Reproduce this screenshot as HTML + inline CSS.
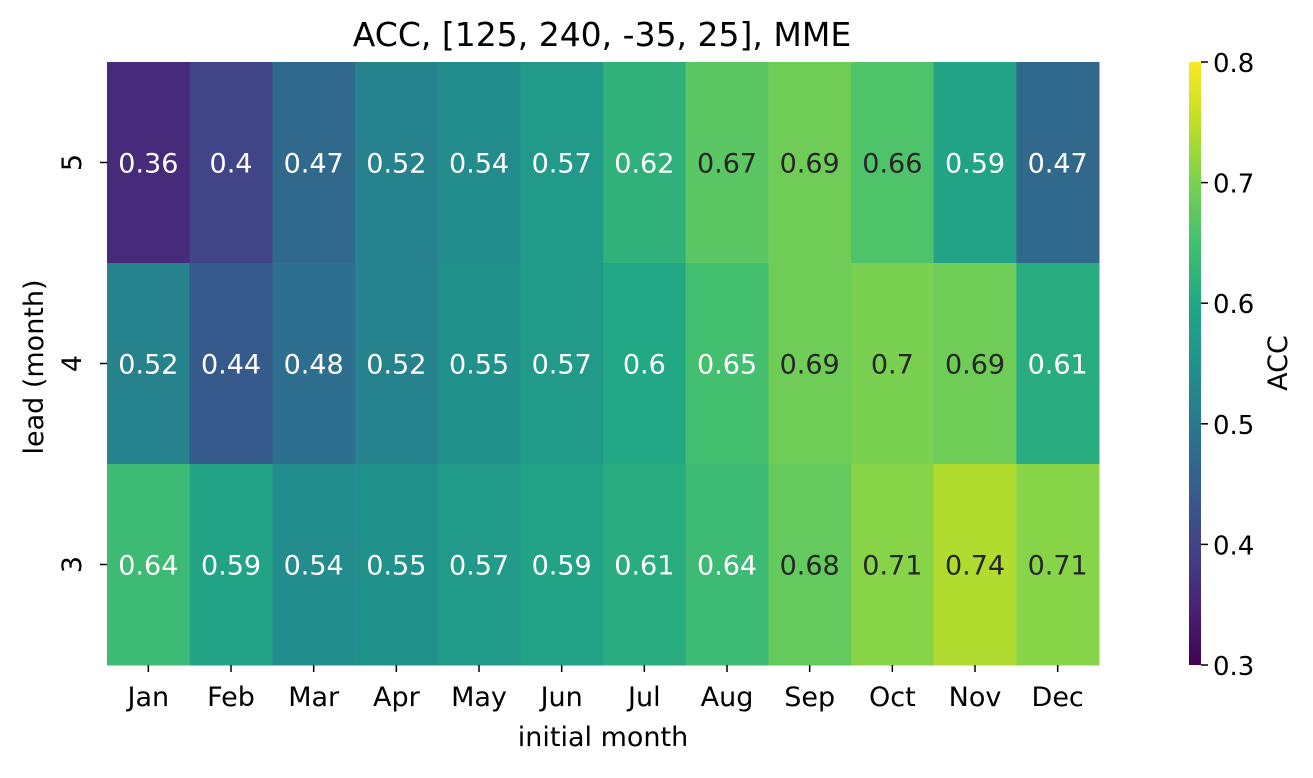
<!DOCTYPE html>
<html><head><meta charset="utf-8"><style>
body{margin:0;background:#fff;}
svg text{font-family:"DejaVu Sans","Liberation Sans",sans-serif;}
</style></head><body>
<svg id="chart" width="1313" height="773" xmlns="http://www.w3.org/2000/svg">
<defs><linearGradient id="vir" x1="0" y1="1" x2="0" y2="0">
<stop offset="0" stop-color="#440154"/><stop offset="0.1" stop-color="#482475"/><stop offset="0.2" stop-color="#414487"/><stop offset="0.3" stop-color="#355f8d"/><stop offset="0.4" stop-color="#2a788e"/><stop offset="0.5" stop-color="#21918c"/><stop offset="0.6" stop-color="#22a884"/><stop offset="0.7" stop-color="#44bf70"/><stop offset="0.8" stop-color="#7ad151"/><stop offset="0.9" stop-color="#bddf26"/><stop offset="1" stop-color="#fde725"/>
</linearGradient></defs>
<text x="602" y="46" font-size="33" text-anchor="middle" fill="#000">ACC, [125, 240, -35, 25], MME</text>
<g id="cells"></g>
<text x="603" y="746" font-size="27" text-anchor="middle">initial month</text>
<text transform="translate(43,367) rotate(-90)" font-size="27" text-anchor="middle">lead (month)</text>
<rect x="1189" y="62" width="12" height="603" fill="url(#vir)"/>
<g id="cbticks"></g>
<text transform="translate(1287,363) rotate(-90)" font-size="27" text-anchor="middle">ACC</text>
</svg>
<script>
const months=["Jan","Feb","Mar","Apr","May","Jun","Jul","Aug","Sep","Oct","Nov","Dec"];
const leads=["5","4","3"];
const lead5=[0.36,0.4,0.47,0.52,0.54,0.57,0.62,0.67,0.69,0.66,0.59,0.47];
const lead4=[0.52,0.44,0.48,0.52,0.55,0.57,0.6,0.65,0.69,0.7,0.69,0.61];
const lead3=[0.64,0.59,0.54,0.55,0.57,0.59,0.61,0.64,0.68,0.71,0.74,0.71];
const cbTicks=[0.3,0.4,0.5,0.6,0.7,0.8];
const rows=[lead5,lead4,lead3];
const vmin=0.3,vmax=0.8;
const X0=107,X1=1099,Y0=62,Y1=665;
const cw=(X1-X0)/months.length, ch=(Y1-Y0)/leads.length;
const xs=i=>X0+i*cw, ys=j=>Y0+j*ch;
const cby=v=>Y1-(v-vmin)/(vmax-vmin)*(Y1-Y0);
const stops=["#440154","#482475","#414487","#355f8d","#2a788e","#21918c","#22a884","#44bf70","#7ad151","#bddf26","#fde725"].map(h=>[1,3,5].map(k=>parseInt(h.substr(k,2),16)));
function cmap(v){let t=Math.max(0,Math.min(1,(v-vmin)/(vmax-vmin)))*10;let i=Math.min(9,Math.floor(t)),f=t-i;return stops[i].map((c,k)=>Math.round(c+(stops[i+1][k]-c)*f));}
function lum(c){const l=c.map(x=>{x/=255;return x<=0.03928?x/12.92:Math.pow((x+0.055)/1.055,2.4);});return 0.2126*l[0]+0.7152*l[1]+0.0722*l[2];}
const NS="http://www.w3.org/2000/svg";
const g=document.getElementById('cells');
function mk(t,a,p){const e=document.createElementNS(NS,t);for(const k in a)e.setAttribute(k,a[k]);(p||g).appendChild(e);return e;}
rows.forEach((r,j)=>r.forEach((v,i)=>{
 const c=cmap(v);
 const rc=mk('rect',{x:xs(i),y:ys(j),width:cw+0.5,height:ch+0.5,fill:`rgb(${c})`});
 
 
 const t=mk('text',{x:xs(i)+cw/2,y:ys(j)+ch/2+10,'font-size':27,'text-anchor':'middle',fill:lum(c)>0.408?'#262626':'#fff'});
 t.textContent=String(v);
 
 
}));
months.forEach((m,i)=>{
 const x=xs(i)+cw/2;
 mk('line',{x1:x,x2:x,y1:Y1,y2:Y1+7,stroke:'#000','stroke-width':1.5});
 const t=mk('text',{x:x,y:Y1+41,'font-size':27,'text-anchor':'middle'});t.textContent=m;
 
 
});
leads.forEach((l,j)=>{
 const y=ys(j)+ch/2;
 mk('line',{x1:X0-7,x2:X0,y1:y,y2:y,stroke:'#000','stroke-width':1.5});
 const t=mk('text',{transform:`translate(81,${y}) rotate(-90)`,'font-size':27,'text-anchor':'middle'});t.textContent=l;
 
 
});
const cg=document.getElementById('cbticks');
cbTicks.forEach(v=>{
 const y=cby(v);
 mk('line',{x1:1201,x2:1208,y1:y,y2:y,stroke:'#000','stroke-width':1.5},cg);
 const t=mk('text',{x:1213,y:y+10,'font-size':26},cg);t.textContent=v.toFixed(1);
 
 
});
</script>
</body></html>
